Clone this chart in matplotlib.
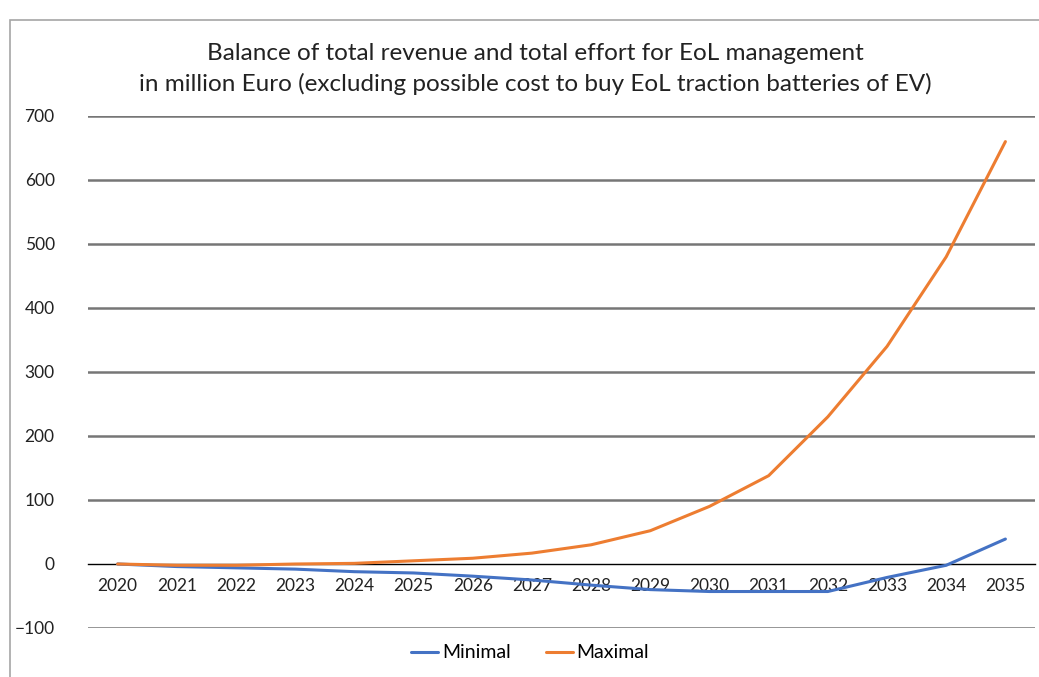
import matplotlib

matplotlib.use("Agg")
import matplotlib.pyplot as plt
from matplotlib.patches import Rectangle

# ---------------------------------------------------------------- data
years = list(range(2020, 2036))
minimal = [0, -4, -6, -8, -12, -14, -19, -25, -33, -40, -43, -43, -43, -21, -2, 39]
maximal = [0, -2, -2, 0, 1, 5, 9, 17, 30, 52, 90, 138, 230, 340, 480, 660]
y_ticks = [-100, 0, 100, 200, 300, 400, 500, 600, 700]
title = ("Balance of total revenue and total effort for EoL management\n"
         "in million Euro (excluding possible cost to buy EoL traction batteries of EV)")

BLUE, ORANGE = "#4472C4", "#ED7D31"
plt.rcParams["font.family"] = ["Lato", "DejaVu Sans"]

W, H = 1039, 677
fig = plt.figure(figsize=(W / 100, H / 100), dpi=100)
fig.patches.append(Rectangle((10 / W, 1 - 690 / H), 1.2, 670 / H, transform=fig.transFigure,
                             fill=False, ec="#a6a6a6", lw=1.2))

ax = fig.add_axes([88 / W, 1 - 628 / H, (1035 - 88) / W, (628 - 116) / H])
ax.plot(years, minimal, color=BLUE, lw=2.2, label="Minimal", solid_capstyle="round")
ax.plot(years, maximal, color=ORANGE, lw=2.2, label="Maximal", solid_capstyle="round")

ax.set_xlim(2019.5, 2035.5)
ax.set_ylim(-100, 700)
ax.set_yticks(y_ticks)
ax.set_xticks(years)
for y in y_ticks:
    if y != 0:
        ax.axhline(y, color="#767676", lw=1.8, zorder=0)
for s in ("left", "right", "top"):
    ax.spines[s].set_visible(False)
ax.spines["bottom"].set_position(("data", 0))
ax.spines["bottom"].set_color("black")
ax.spines["bottom"].set_linewidth(1.0)
ax.spines["bottom"].set_zorder(0.5)
ax.tick_params(axis="x", length=0, pad=10, labelsize=12.5, labelcolor="#222222")
ax.tick_params(axis="y", length=0, pad=24, labelsize=12.5, labelcolor="#222222")

fig.text(535 / W, 1 - 69 / H, title, ha="center", va="center", fontsize=17.5,
         linespacing=1.45, color="#222222")
fig.legend(loc="center", bbox_to_anchor=(530 / W, 1 - 653 / H), ncol=2, frameon=False,
           fontsize=14, handlelength=1.4, handletextpad=0.2, columnspacing=1.8)

fig.savefig("out.png", dpi=100)
